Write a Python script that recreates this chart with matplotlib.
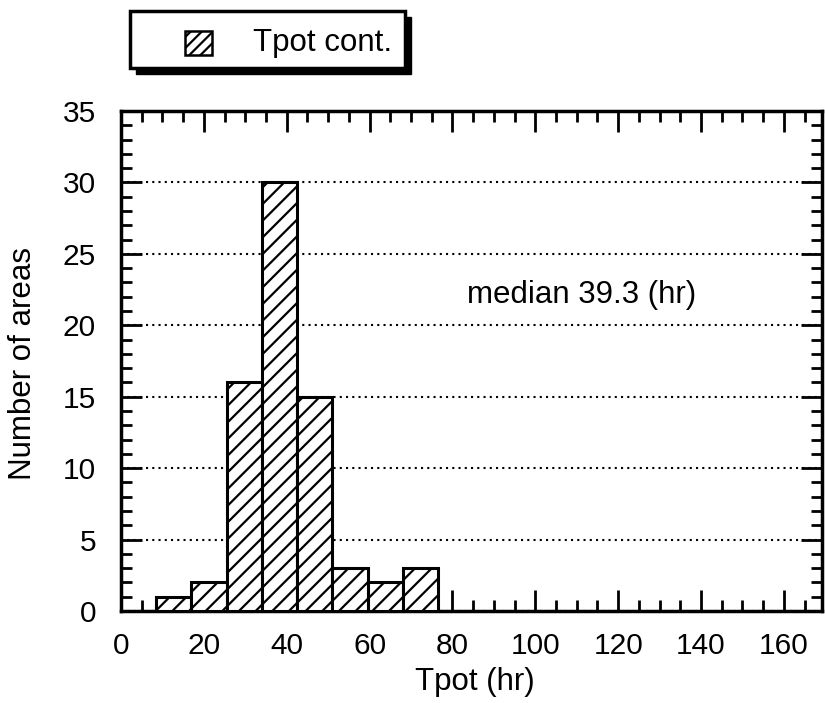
import numpy as np
import matplotlib.pyplot as plt
from matplotlib.patches import Rectangle
from matplotlib.ticker import MultipleLocator

plt.rcParams['font.family'] = ['Liberation Sans', 'DejaVu Sans']
plt.rcParams['hatch.linewidth'] = 1.6

# histogram of Tpot, bin width 8.5 hr
bin_edges = [8.5, 17.0, 25.5, 34.0, 42.5, 51.0, 59.5, 68.0, 76.5]
counts = [1, 2, 16, 30, 15, 3, 2, 3]
median_tpot = 39.3
legend_label = "Tpot cont."

fig = plt.figure(figsize=(8.25, 7.03), dpi=100)
ax = fig.add_axes([121 / 825, 92 / 703, 701 / 825, 500 / 703])

widths = np.diff(bin_edges)
ax.bar(bin_edges[:-1], counts, width=widths, align='edge',
       facecolor='white', edgecolor='black', linewidth=2.2, hatch='//',
       zorder=3)

ax.set_xlim(0, 169.2)
ax.set_ylim(0, 35)
ax.xaxis.set_major_locator(MultipleLocator(20))
ax.xaxis.set_minor_locator(MultipleLocator(5))
ax.yaxis.set_major_locator(MultipleLocator(5))
ax.yaxis.set_minor_locator(MultipleLocator(1))
ax.tick_params(which='both', direction='in', top=True, right=True,
               width=2, labelsize=21.5)
ax.tick_params(axis='x', pad=15)
ax.tick_params(axis='y', pad=18)
ax.tick_params(which='major', length=15)
ax.tick_params(which='minor', length=8)
for s in ax.spines.values():
    s.set_linewidth(2.5)

ax.yaxis.grid(True, which='major', linestyle=(0, (1, 2)), color='black',
              linewidth=1.5, zorder=1)

ax.set_xlabel("Tpot (hr)", fontsize=22.5, va='top')
ax.set_ylabel("Number of areas", fontsize=22.5, va='bottom')
ax.xaxis.set_label_coords(0.505, -0.112)
ax.yaxis.set_label_coords(-0.119, 0.494)

ax.text(83.5, 22.1, f"median {median_tpot} (hr)", fontsize=22.5,
        ha='left', va='center')

# legend box with solid drop shadow, in pixel coordinates
W, H = 825, 703
def px_rect(x0, y0, x1, y1, **kw):
    r = Rectangle((x0 / W, 1 - y1 / H), (x1 - x0) / W, (y1 - y0) / H,
                  transform=fig.transFigure, **kw)
    fig.add_artist(r)
    return r

px_rect(136, 17, 411, 74, facecolor='black', edgecolor='black', linewidth=1)
px_rect(130, 11, 405, 68, facecolor='white', edgecolor='black', linewidth=2.5)
px_rect(185, 31, 212, 55, facecolor='white', edgecolor='black',
        linewidth=1.8, hatch='///')
fig.text(253 / W, 1 - 43 / H, legend_label, fontsize=22.5, ha='left',
         va='center')

fig.savefig("out.png", dpi=100)
